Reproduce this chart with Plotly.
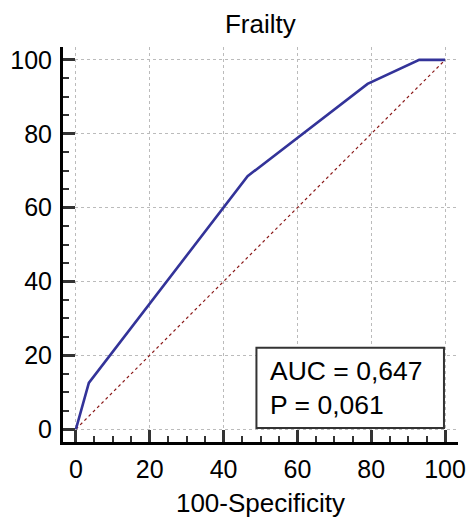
import plotly.graph_objects as go

# ROC data
fpr = [0, 3.5, 46.5, 79, 93, 100]          # 100-Specificity
tpr = [0, 12.5, 68.5, 93.5, 100, 100]      # Sensitivity
diag_x = [0, 100]
diag_y = [0, 100]
tick_vals = [0, 20, 40, 60, 80, 100]
title_text = "Frailty"
x_title = "100-Specificity"
auc_text = "AUC = 0,647"
p_text = "P = 0,061"

FONT = "Liberation Sans, Arial, sans-serif"

fig = go.Figure()
fig.add_trace(go.Scatter(x=diag_x, y=diag_y, mode="lines",
                         line=dict(color="#8b1a1a", width=1.2, dash="dot"),
                         showlegend=False, hoverinfo="skip"))
fig.add_trace(go.Scatter(x=fpr, y=tpr, mode="lines",
                         line=dict(color="#333399", width=2.6),
                         showlegend=False))

axis_common = dict(
    range=[-3.5, 103.5], tickvals=tick_vals, showline=True, linecolor="black",
    linewidth=3, ticks="inside", ticklen=12, tickwidth=3, tickcolor="#333",
    showgrid=True, gridcolor="#bbbbbb", griddash="dot", gridwidth=1,
    zeroline=False, tickfont=dict(size=25, color="black", family=FONT),
    minor=dict(dtick=5, ticks="inside", ticklen=6, tickwidth=1.5,
               tickcolor="#333", showgrid=False),
    fixedrange=True, automargin=False,
)

fig.update_xaxes(**axis_common, ticklabelstandoff=3,
                 title=dict(text=x_title, font=dict(size=26, color="black", family=FONT), standoff=12))
fig.update_yaxes(**axis_common, ticklabelstandoff=3)

# legend-like box with AUC and P value
fig.add_shape(type="rect", xref="x", yref="y", x0=48.9, x1=99.7, y0=0.3, y1=22,
              line=dict(color="#333", width=2), fillcolor="white", layer="above")
fig.add_annotation(x=52.0, y=11.1, xref="x", yref="y", xanchor="left", yanchor="middle",
                   text=auc_text + "<br>" + p_text, align="left", showarrow=False,
                   font=dict(size=26.5, color="black", family=FONT))

fig.update_layout(
    width=469, height=520,
    margin=dict(l=63, r=11, t=47, b=78),
    plot_bgcolor="white", paper_bgcolor="white",
    title=dict(text=title_text, x=0.555, xanchor="center", y=0.955, yanchor="middle",
               font=dict(size=26, color="black", family=FONT)),
    font=dict(family=FONT),
)

fig.write_html("out.html")
